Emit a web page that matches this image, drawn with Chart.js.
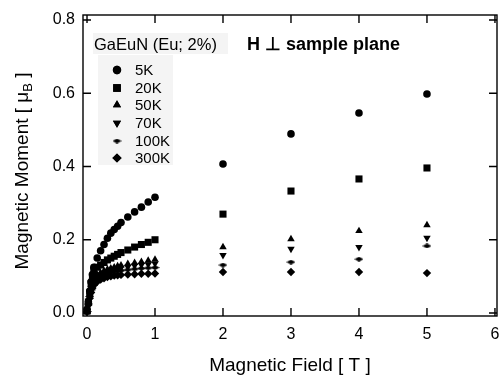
<!DOCTYPE html>
<html>
<head>
<meta charset="utf-8">
<script src="https://cdn.jsdelivr.net/npm/chart.js@4.4.0/dist/chart.umd.min.js"></script>
<style>
html, body { margin: 0; padding: 0; background: #fff; }
</style>
</head>
<body>
<canvas id="grafico_momento" width="499" height="377"></canvas>
<script>
// campo magnetico (T): varredura fina ate 1 T, depois pontos inteiros
var campo = [0, 0.02, 0.04, 0.06, 0.08, 0.1, 0.15, 0.2, 0.25, 0.3, 0.35, 0.4, 0.45, 0.5, 0.6, 0.7, 0.8, 0.9, 1.0, 2, 3, 4, 5];

// momento magnetico (muB) por temperatura
var m5K   = [0.010, 0.030, 0.060, 0.085, 0.105, 0.125, 0.150, 0.170, 0.187, 0.204, 0.218, 0.228, 0.237, 0.247, 0.262, 0.276, 0.289, 0.303, 0.316, 0.407, 0.489, 0.546, 0.598];
var m20K  = [0.005, 0.030, 0.055, 0.080, 0.100, 0.115, 0.125, 0.131, 0.138, 0.145, 0.150, 0.155, 0.160, 0.165, 0.172, 0.180, 0.187, 0.193, 0.200, 0.270, 0.333, 0.366, 0.396];
var m50K  = [0.005, 0.028, 0.050, 0.070, 0.085, 0.095, 0.104, 0.110, 0.115, 0.119, 0.122, 0.125, 0.128, 0.130, 0.134, 0.137, 0.140, 0.143, 0.146, 0.180, 0.202, 0.224, 0.240];
var m70K  = [0.005, 0.027, 0.048, 0.067, 0.082, 0.090, 0.099, 0.105, 0.109, 0.113, 0.116, 0.119, 0.121, 0.123, 0.126, 0.129, 0.131, 0.133, 0.135, 0.158, 0.175, 0.180, 0.205];
var m100K = [0.004, 0.025, 0.045, 0.063, 0.077, 0.085, 0.094, 0.100, 0.104, 0.108, 0.110, 0.113, 0.115, 0.116, 0.118, 0.120, 0.122, 0.123, 0.124, 0.131, 0.139, 0.147, 0.183];
var m300K = [0.003, 0.022, 0.040, 0.056, 0.068, 0.076, 0.085, 0.091, 0.095, 0.098, 0.100, 0.102, 0.103, 0.104, 0.105, 0.106, 0.107, 0.107, 0.108, 0.112, 0.112, 0.112, 0.109];

var rotulos = ['5K', '20K', '50K', '70K', '100K', '300K'];
var ticksX = [0, 1, 2, 3, 4, 5, 6];
var ticksY = [0, 0.2, 0.4, 0.6, 0.8];

var fonte = '"Liberation Sans", Arial, Helvetica, sans-serif';

// losango achatado para 100K
function losangoAchatado() {
    var c = document.createElement('canvas');
    c.width = 9;
    c.height = 5;
    var g = c.getContext('2d');
    g.fillStyle = '#000';
    g.beginPath();
    g.moveTo(0, 2.5);
    g.lineTo(4.5, 0);
    g.lineTo(9, 2.5);
    g.lineTo(4.5, 5);
    g.closePath();
    g.fill();
    return c;
}
var simbolo100K = losangoAchatado();

var estilos = [
    {pointStyle: 'circle', radius: 3.8, rotation: 0},
    {pointStyle: 'rect', radius: 5, rotation: 0},
    {pointStyle: 'triangle', radius: 4.3, rotation: 0},
    {pointStyle: 'triangle', radius: 4.3, rotation: 180},
    {pointStyle: simbolo100K, radius: 4, rotation: 0},
    {pointStyle: 'rectRot', radius: 4.2, rotation: 0}
];

function pontos(valores) {
    var arr = [];
    for (var i = 0; i < campo.length; i++) {
        arr.push({x: campo[i], y: valores[i]});
    }
    return arr;
}

var series = [m5K, m20K, m50K, m70K, m100K, m300K];
var datasets = [];
for (var i = 0; i < series.length; i++) {
    datasets.push({
        label: rotulos[i],
        data: pontos(series[i]),
        showLine: false,
        pointStyle: estilos[i].pointStyle,
        pointRadius: estilos[i].radius,
        pointRotation: estilos[i].rotation,
        backgroundColor: '#000',
        borderColor: '#000',
        borderWidth: 0
    });
}

function desenhaPonto(ctx, est, x, y) {
    ctx.save();
    ctx.fillStyle = '#000';
    ctx.strokeStyle = '#000';
    ctx.lineWidth = 0;
    if (est.pointStyle instanceof HTMLCanvasElement) {
        ctx.drawImage(est.pointStyle, x - est.pointStyle.width / 2, y - est.pointStyle.height / 2);
    } else {
        Chart.helpers.drawPoint(ctx, {pointStyle: est.pointStyle, rotation: est.rotation, radius: est.radius + 0.4, borderWidth: 0}, x, y);
        ctx.fill();
    }
    ctx.restore();
}

var moldura = {
    id: 'moldura',
    beforeDatasetsDraw: function (chart) {
        var ctx = chart.ctx;
        ctx.save();
        ctx.fillStyle = '#f4f4f4';
        ctx.fillRect(93, 33, 135, 21);
        ctx.fillRect(98, 55, 75, 110);
        ctx.restore();
    },
    afterDraw: function (chart) {
        var ctx = chart.ctx;
        var a = chart.chartArea;
        var sx = chart.scales.x, sy = chart.scales.y;
        ctx.save();
        ctx.strokeStyle = '#000';
        ctx.lineWidth = 1.4;
        ctx.strokeRect(a.left, a.top, a.right - a.left, a.bottom - a.top);
        var t = 8;
        ctx.beginPath();
        ticksX.forEach(function (v) {
            var px = sx.getPixelForValue(v);
            ctx.moveTo(px, a.bottom); ctx.lineTo(px, a.bottom - t);
            ctx.moveTo(px, a.top); ctx.lineTo(px, a.top + t);
        });
        ticksY.forEach(function (v) {
            var py = sy.getPixelForValue(v);
            ctx.moveTo(a.left, py); ctx.lineTo(a.left + t, py);
            ctx.moveTo(a.right, py); ctx.lineTo(a.right - t, py);
        });
        ctx.stroke();

        // legenda
        ctx.fillStyle = '#000';
        ctx.textBaseline = 'middle';
        ctx.textAlign = 'left';
        ctx.font = '16.5px ' + fonte;
        ctx.fillText('GaEuN (Eu; 2%)', 94, 45);
        ctx.font = 'bold 18px ' + fonte;
        ctx.fillText('H \u22A5 sample plane', 247, 45);
        var ys = [70, 88, 105, 123, 141, 158];
        ctx.font = '15px ' + fonte;
        for (var i = 0; i < rotulos.length; i++) {
            desenhaPonto(ctx, estilos[i], 117, ys[i]);
            ctx.fillText(rotulos[i], 135, ys[i] + 1);
        }

        // titulo do eixo y com subscrito
        ctx.translate(28, 171);
        ctx.rotate(-Math.PI / 2);
        ctx.textBaseline = 'alphabetic';
        var f1 = '19px ' + fonte, f2 = '13px ' + fonte;
        var p1 = 'Magnetic Moment [ \u03BC', p2 = 'B', p3 = ' ]';
        ctx.font = f1;
        var w1 = ctx.measureText(p1).width, w3 = ctx.measureText(p3).width;
        ctx.font = f2;
        var w2 = ctx.measureText(p2).width;
        var x0 = -(w1 + w2 + w3) / 2;
        ctx.font = f1;
        ctx.fillText(p1, x0, 0);
        ctx.font = f2;
        ctx.fillText(p2, x0 + w1, 4);
        ctx.font = f1;
        ctx.fillText(p3, x0 + w1 + w2, 0);
        ctx.restore();
    }
};

var ctx = document.getElementById('grafico_momento');
var grafico = new Chart(ctx, {
    type: 'scatter',
    data: {datasets: datasets},
    options: {
        responsive: false,
        animation: false,
        layout: {autoPadding: false, padding: {top: 15, right: 2, left: 0, bottom: 0}},
        plugins: {
            legend: {display: false},
            tooltip: {enabled: false}
        },
        scales: {
            x: {
                type: 'linear',
                min: -0.059,
                max: 6.03,
                grid: {display: false, drawTicks: false},
                border: {display: false},
                ticks: {
                    color: '#000',
                    font: {size: 16, family: fonte},
                    padding: 9,
                    maxRotation: 0,
                    callback: function (v) { return String(v); }
                },
                afterBuildTicks: function (s) {
                    s.ticks = ticksX.map(function (v) { return {value: v}; });
                },
                afterFit: function (s) {
                    s.height = 61;
                    s.paddingLeft = 0;
                    s.paddingRight = 0;
                },
                title: {
                    display: true,
                    text: 'Magnetic Field [ T ]',
                    color: '#000',
                    font: {size: 19, family: fonte},
                    padding: {top: 0, bottom: 0}
                }
            },
            y: {
                type: 'linear',
                min: -0.0082,
                max: 0.8137,
                grid: {display: false, drawTicks: false},
                border: {display: false},
                ticks: {
                    color: '#000',
                    font: {size: 16, family: fonte},
                    padding: 8,
                    callback: function (v) { return v.toFixed(1); }
                },
                afterBuildTicks: function (s) {
                    s.ticks = ticksY.map(function (v) { return {value: v}; });
                },
                afterFit: function (s) {
                    s.width = 83;
                    s.paddingTop = 0;
                    s.paddingBottom = 0;
                }
            }
        }
    },
    plugins: [moldura]
});
</script>
</body>
</html>
